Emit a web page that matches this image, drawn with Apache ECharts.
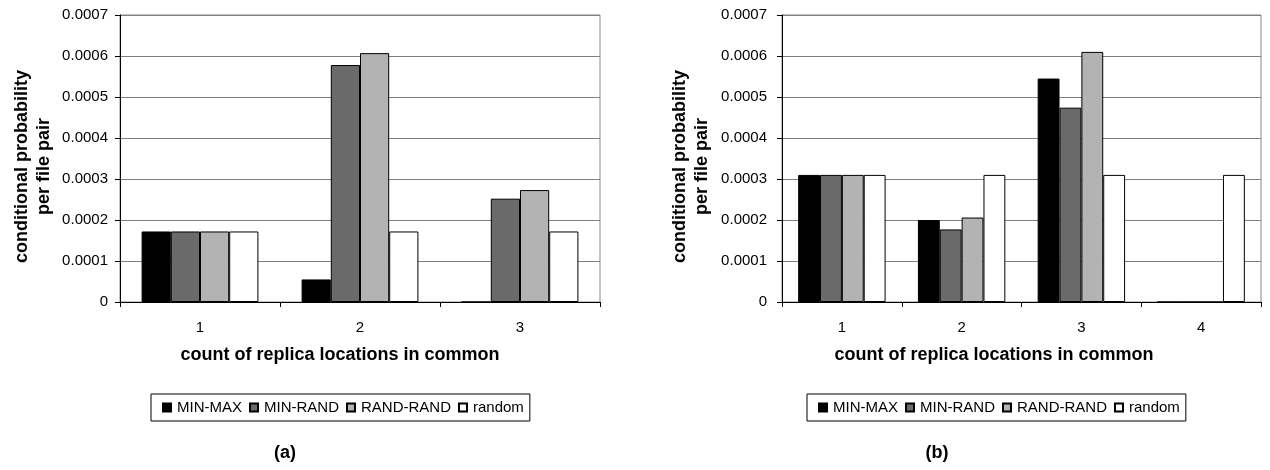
<!DOCTYPE html>
<html>
<head>
<meta charset="utf-8">
<script src="https://cdn.jsdelivr.net/npm/echarts@6/dist/echarts.min.js"></script>
<style>
  html, body { margin: 0; padding: 0; background: #fff; }
  #chart { width: 1270px; height: 470px; }
</style>
</head>
<body>
<div id="chart"></div>
<script>
const seriesNames = ['MIN-MAX', 'MIN-RAND', 'RAND-RAND', 'random']
const barColors = ['#000000', '#6a6a6a', '#b3b3b3', '#ffffff']

const yTickLabels = ['0', '0.0001', '0.0002', '0.0003', '0.0004', '0.0005', '0.0006', '0.0007']
const yMax = 0.0007
const yStep = 0.0001

// (a)
const categoriesA = ['1', '2', '3']
const minMaxA = [0.000172, 0.000055, 0]
const minRandA = [0.000172, 0.000578, 0.000252]
const randRandA = [0.000172, 0.000607, 0.000273]
const randomA = [0.000172, 0.000172, 0.000172]

// (b)
const categoriesB = ['1', '2', '3', '4']
const minMaxB = [0.00031, 0.0002, 0.000545, 0]
const minRandB = [0.00031, 0.000177, 0.000474, 0]
const randRandB = [0.00031, 0.000206, 0.00061, 0]
const randomB = [0.00031, 0.00031, 0.00031, 0.00031]

const fontFamily = "'Liberation Sans', Arial, sans-serif"
const xTitle = 'count of replica locations in common'
const yTitle = 'conditional probability\nper file pair'

const chart = echarts.init(document.getElementById('chart'), null, { renderer: 'canvas' })

function makeX(idx, cats) {
  return {
    type: 'category',
    gridIndex: idx,
    data: cats,
    axisLine: { lineStyle: { color: '#000', width: 1 } },
    axisTick: { show: true, length: 5, lineStyle: { color: '#000' } },
    axisLabel: { color: '#000', fontSize: 15, fontFamily, margin: 18 },
    splitLine: { show: false }
  }
}

function makeY(idx, gap, labelMargin) {
  return {
    type: 'value',
    gridIndex: idx,
    min: 0,
    max: yMax,
    interval: yStep,
    name: yTitle,
    nameLocation: 'middle',
    nameRotate: 90,
    nameGap: gap,
    nameTextStyle: {
      color: '#000', fontSize: 18, fontWeight: 'bold', fontFamily,
      lineHeight: 22, padding: [0, 16, 0, 0]
    },
    axisLine: { show: true, lineStyle: { color: '#000', width: 1 } },
    axisTick: { show: true, length: 5, lineStyle: { color: '#000' } },
    axisLabel: {
      color: '#000', fontSize: 15, fontFamily, margin: labelMargin,
      formatter: (v, i) => yTickLabels[i]
    },
    splitLine: { show: true, lineStyle: { color: '#808080', width: 1 } }
  }
}

function makeSeries(idx, lists) {
  return lists.map((d, k) => ({
    name: seriesNames[k],
    type: 'bar',
    xAxisIndex: idx,
    yAxisIndex: idx,
    data: d,
    barGap: '0%',
    barCategoryGap: '27%',
    animation: false,
    itemStyle: { color: barColors[k], borderColor: '#000', borderWidth: 1 }
  }))
}

function makeLegend(left) {
  return {
    left: left,
    top: 394,
    orient: 'horizontal',
    data: seriesNames,
    itemWidth: 8,
    itemHeight: 8,
    itemGap: 7,
    padding: [6, 6, 6, 11],
    borderColor: '#000',
    borderWidth: 1,
    selectedMode: false,
    icon: 'rect',
    textStyle: { color: '#000', fontSize: 15, fontFamily, padding: [0, 0, 0, 1] }
  }
}

chart.setOption({
  backgroundColor: '#fff',
  animation: false,
  grid: [
    { left: 120, top: 15, width: 480, height: 287, outerBoundsMode: 'none', containLabel: false, show: true, borderColor: '#888', borderWidth: 1 },
    { left: 782, top: 15, width: 479, height: 287, outerBoundsMode: 'none', containLabel: false, show: true, borderColor: '#888', borderWidth: 1 }
  ],
  xAxis: [makeX(0, categoriesA), makeX(1, categoriesB)],
  yAxis: [makeY(0, 65, 12), makeY(1, 69, 15)],
  legend: [makeLegend(151), makeLegend(807)],
  series: [
    ...makeSeries(0, [minMaxA, minRandA, randRandA, randomA]),
    ...makeSeries(1, [minMaxB, minRandB, randRandB, randomB])
  ],
  graphic: [
    { type: 'text', x: 340, y: 355, style: { text: xTitle, fill: '#000', font: 'bold 18px ' + fontFamily, align: 'center', verticalAlign: 'middle' } },
    { type: 'text', x: 994, y: 355, style: { text: xTitle, fill: '#000', font: 'bold 18px ' + fontFamily, align: 'center', verticalAlign: 'middle' } },
    { type: 'text', x: 285, y: 453, style: { text: '(a)', fill: '#000', font: 'bold 18px ' + fontFamily, align: 'center', verticalAlign: 'middle' } },
    { type: 'text', x: 937, y: 453, style: { text: '(b)', fill: '#000', font: 'bold 18px ' + fontFamily, align: 'center', verticalAlign: 'middle' } }
  ]
})
</script>
</body>
</html>
